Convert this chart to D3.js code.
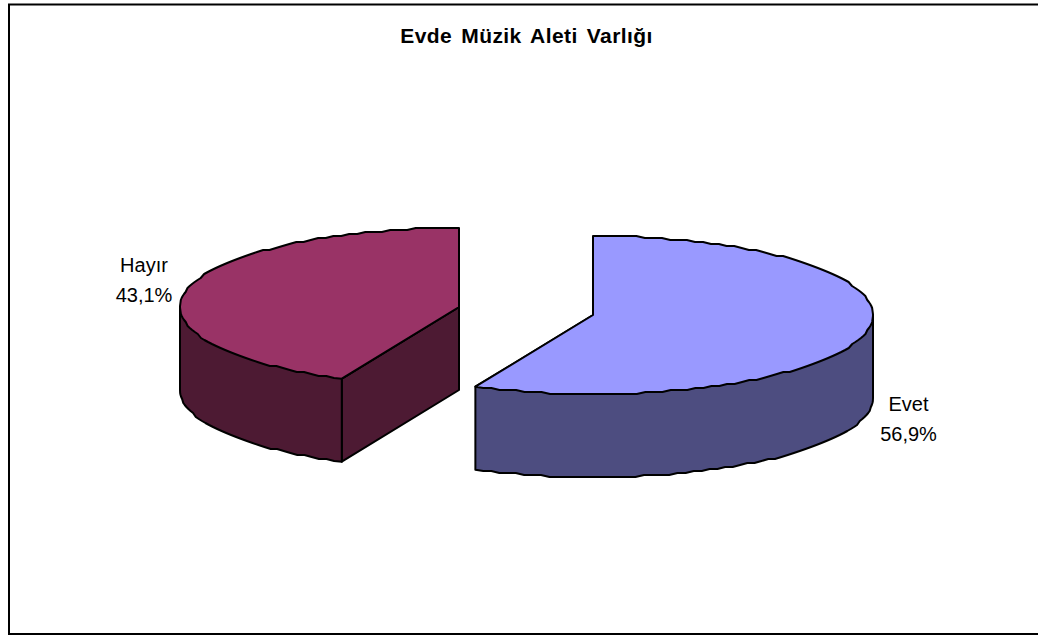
<!DOCTYPE html>
<html><head><meta charset="utf-8">
<script src="https://cdn.jsdelivr.net/npm/d3@7"></script>
<style>html,body{margin:0;padding:0;background:#fff}svg{display:block}text{font-family:"Liberation Sans",Arial,sans-serif;fill:#000}</style>
</head><body><svg id="c" width="1038" height="635"></svg>
<script>
const chartTitle = "Evde Müzik Aleti Varlığı";
const categories = ["Evet", "Hayır"];
const values = [56.9, 43.1];
const valueLabels = ["56,9%", "43,1%"];
const topColors = ["#9999ff", "#993366"];
const sideColors = ["#4d4d80", "#4d1a33"];

const svg = d3.select("#c");
svg.append("rect").attr("x",9).attr("y",4.5).attr("width",1040).attr("height",629.5)
  .attr("fill","#fff").attr("stroke","#000").attr("stroke-width",2);
svg.append("text").attr("x",526.5).attr("y",43).attr("text-anchor","middle")
  .attr("font-size",21).attr("font-weight","bold").attr("letter-spacing",0.4).attr("word-spacing",3).text(chartTitle);

const pie = d3.pie().sort(null).value(d=>d);
const arcs = pie(values);
const radii = [280,279];
const depth = 83;
const centers = [[593,315],[459,307]];
const labelPos = [[908.5,411],[144,272]];
const pt = (i,a,dy=0)=>[centers[i][0]+radii[i]*Math.sin(a), centers[i][1]-79*Math.cos(a)+dy];
const line = d3.line();
// the reference's rim is a slightly stepped outline: snap rim points to a 2px grid
const q = v=>Math.round(v/2)*2;
const sample = (a0,a1,i,dy=0)=>{const n=Math.max(2,Math.ceil(Math.abs(a1-a0)*32));
  return d3.range(n+1).map(k=>{const p=pt(i,a0+(a1-a0)*k/n,dy);
    return (k===0||k===n)?p:[p[0],q(p[1]-dy)+dy];});};
const stroke = s=>s.attr("stroke","#000").attr("stroke-width",2).attr("stroke-linejoin","round");

arcs.forEach((d,i)=>{
  const c = centers[i], g = svg.append("g");
  const top = [c,...sample(d.startAngle,d.endAngle,i)];
  if(i===0){
    const a0=Math.PI/2, a1=d.endAngle;
    const wall=[c,pt(i,a0),...sample(a0,a1,i,depth).reverse().reverse(),pt(i,a1)];
    stroke(g.append("path").attr("d",line(wall)+"Z").attr("fill",sideColors[i]));
  } else {
    const e=pt(i,d.startAngle);
    const cut=[c,e,[e[0],e[1]+depth],[c[0],c[1]+depth]];
    stroke(g.append("path").attr("d",line(cut)+"Z").attr("fill",sideColors[i]));
    const a0=d.startAngle, a1=1.5*Math.PI;
    const wall=[c,pt(i,a0),...sample(a0,a1,i,depth),pt(i,a1)];
    stroke(g.append("path").attr("d",line(wall)+"Z").attr("fill",sideColors[i]));
  }
  stroke(g.append("path").attr("d",line(top)+"Z").attr("fill",topColors[i]));
  const t = svg.append("text").attr("text-anchor","middle").attr("font-size",20);
  t.append("tspan").attr("x",labelPos[i][0]).attr("y",labelPos[i][1]).text(categories[i]);
  t.append("tspan").attr("x",labelPos[i][0]).attr("y",labelPos[i][1]+30).text(valueLabels[i]);
});
</script></body></html>
